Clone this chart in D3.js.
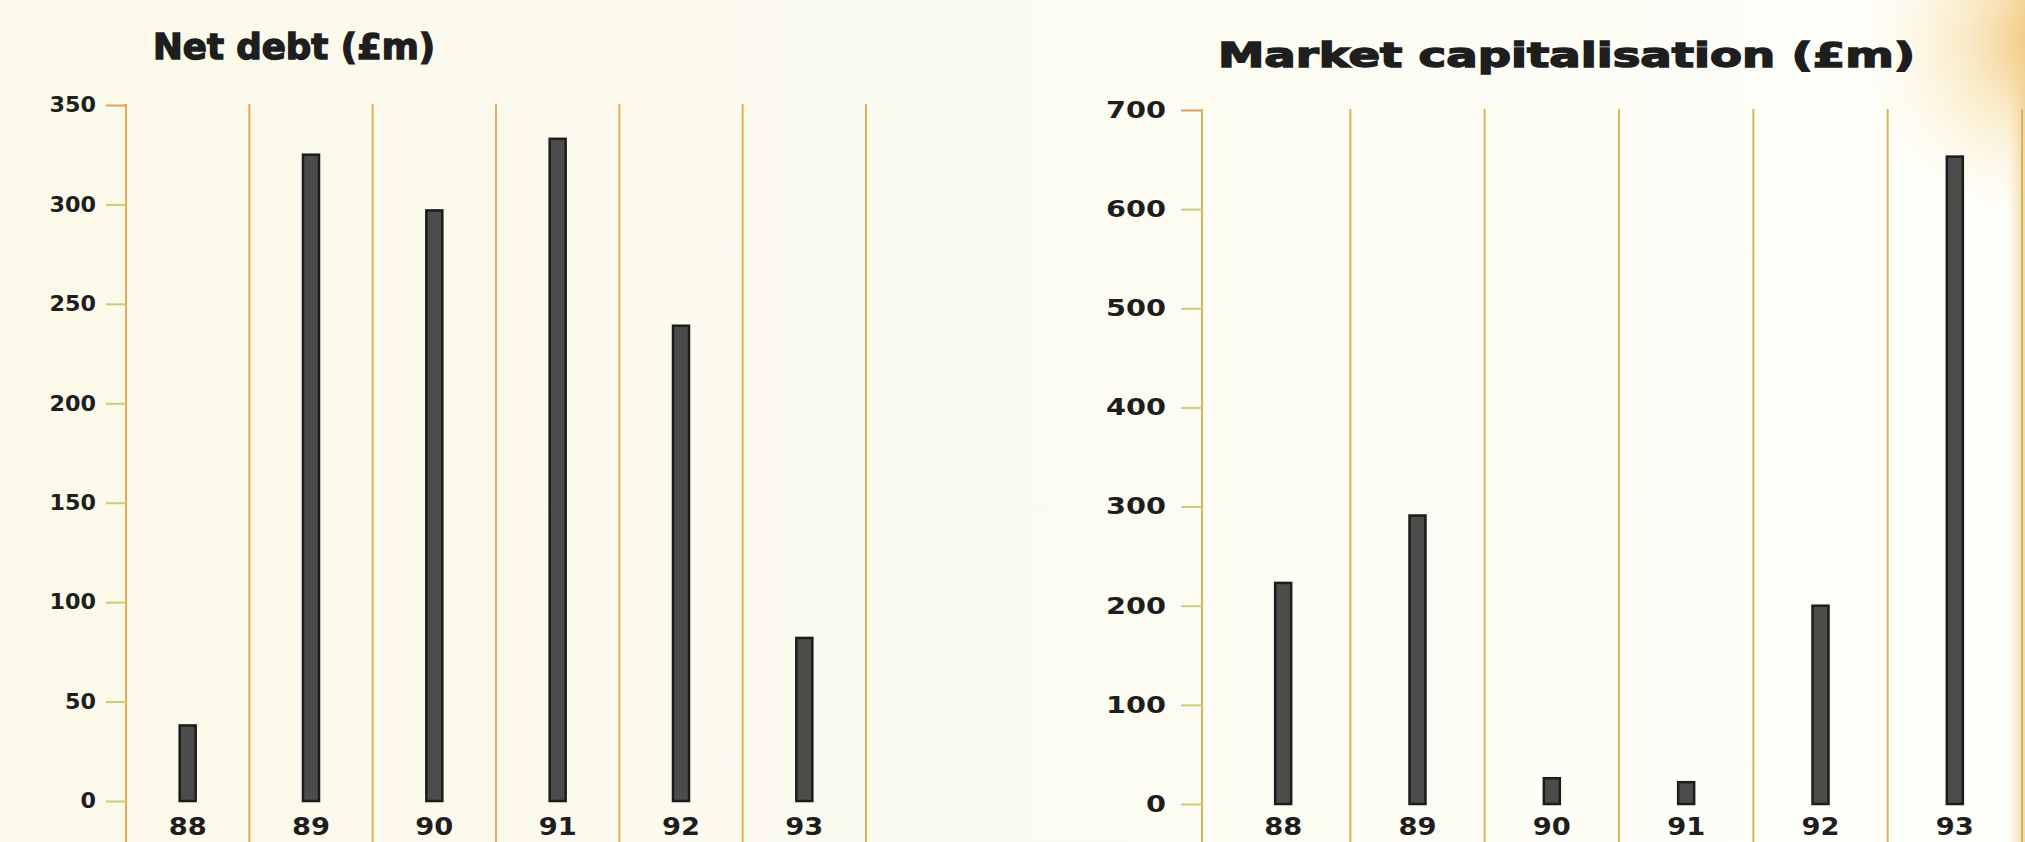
<!DOCTYPE html>
<html>
<head>
<meta charset="utf-8">
<script src="https://cdn.jsdelivr.net/npm/d3@7"></script>
<style>
  html, body { margin: 0; padding: 0; background: #fbfaed; }
  svg { display: block; }
  text { font-family: "DejaVu Sans", sans-serif; font-weight: bold; fill: #1e1e1e; }
</style>
</head>
<body>
<svg id="chart"></svg>
<script>
const width = 2025;
const height = 842;

// data
const years = ["88", "89", "90", "91", "92", "93"];
const netDebt = [38, 325, 297, 333, 239, 82];
const marketCap = [223, 291, 26, 22, 200, 653];
const debtTicks = [0, 50, 100, 150, 200, 250, 300, 350];
const capTicks = [0, 100, 200, 300, 400, 500, 600, 700];

const svg = d3.select("#chart").attr("width", width).attr("height", height);
const defs = svg.append("defs");

// scanned paper look: cream on the left, whiter on the right, orange edge top right
const paper = defs.append("linearGradient").attr("id", "paper");
paper.append("stop").attr("offset", "0").attr("stop-color", "#fbf9e9");
paper.append("stop").attr("offset", "0.5").attr("stop-color", "#fcfbf0");
paper.append("stop").attr("offset", "1").attr("stop-color", "#fefefa");
const edge = defs.append("radialGradient").attr("id", "edge")
    .attr("gradientUnits", "userSpaceOnUse")
    .attr("cx", 2045).attr("cy", 40).attr("r", 190);
edge.append("stop").attr("offset", "0").attr("stop-color", "#f0b862").attr("stop-opacity", 0.9);
edge.append("stop").attr("offset", "0.45").attr("stop-color", "#f6d894").attr("stop-opacity", 0.45);
edge.append("stop").attr("offset", "1").attr("stop-color", "#fff6d8").attr("stop-opacity", 0);
const strip = defs.append("linearGradient").attr("id", "strip");
strip.append("stop").attr("offset", "0").attr("stop-color", "#f3d8a0").attr("stop-opacity", 0);
strip.append("stop").attr("offset", "1").attr("stop-color", "#f0cf90").attr("stop-opacity", 0.8);

svg.append("rect").attr("width", width).attr("height", height).attr("fill", "url(#paper)");
svg.append("rect").attr("width", width).attr("height", height).attr("fill", "url(#edge)");
svg.append("rect").attr("x", 2008).attr("width", 17).attr("height", height).attr("fill", "url(#strip)");

const panels = [
    {
        title: "Net debt (£m)", values: netDebt, ticks: debtTicks,
        axisX: 126, left: 126, right: 866, top: 105, base: 801,
        titleX: 153, titleY: 59, titleW: 282, titleSize: 36,
        tickSize: 21, tickCharW: 15.5, tickLen: 20, tickPad: 10,
        labelY: 818, grid: "#e2ac5c"
    },
    {
        title: "Market capitalisation (£m)", values: marketCap, ticks: capTicks,
        axisX: 1202, left: 1216, right: 2022, top: 110, base: 804,
        titleX: 1218, titleY: 67, titleW: 697, titleSize: 34,
        tickSize: 23, tickCharW: 20, tickLen: 21, tickPad: 15,
        labelY: 818, grid: "#d9b55a"
    }
];

panels.forEach(drawPanel);

function stretch(sel, charW) {
    sel.attr("textLength", function () { return this.textContent.length * charW; })
        .attr("lengthAdjust", "spacingAndGlyphs");
}

function drawPanel(p) {
    const g = svg.append("g");
    const max = d3.max(p.ticks);

    const x = d3.scaleBand().domain(years).range([p.left, p.right]).padding(0);
    const y = d3.scaleLinear().domain([0, max]).range([p.base, p.top]);

    // vertical rules between the years, plus the value axis line
    const edges = years.slice(1).map(d => x(d)).concat([p.right, p.axisX]);
    g.selectAll(".rule")
        .data(edges)
        .enter()
        .append("line")
        .attr("class", "rule")
        .attr("x1", d => d).attr("x2", d => d)
        .attr("y1", p.top - 1).attr("y2", height)
        .style("stroke", p.grid)
        .style("stroke-width", 2);

    // value axis
    const yAxis = g.append("g")
        .attr("transform", `translate(${p.axisX},0)`)
        .call(d3.axisLeft(y).tickValues(p.ticks).tickSize(p.tickLen).tickPadding(p.tickPad).tickSizeOuter(0));
    yAxis.select(".domain").remove();
    yAxis.selectAll(".tick line")
        .style("stroke", (d) => d === max ? "#e0a060" : "#c9cf78")
        .style("stroke-width", 2);
    yAxis.selectAll(".tick text")
        .style("font-size", p.tickSize + "px")
        .style("font-family", "'DejaVu Sans', sans-serif")
        .style("font-weight", "bold")
        .style("fill", "#1e1e1e")
        .call(stretch, p.tickCharW);

    // bars
    const barW = 16;
    g.selectAll(".bar")
        .data(p.values)
        .enter()
        .append("rect")
        .attr("class", "bar")
        .attr("x", (d, i) => x(years[i]) + x.bandwidth() / 2 - barW / 2)
        .attr("y", d => y(d))
        .attr("width", barW)
        .attr("height", d => y(0) - y(d))
        .style("fill", "#4c4c4a")
        .style("stroke", "#1c1c1c")
        .style("stroke-width", 2.5);

    // year labels
    const xAxis = g.append("g")
        .attr("transform", `translate(0,${p.labelY})`)
        .call(d3.axisBottom(x).tickSize(0).tickPadding(0));
    xAxis.select(".domain").remove();
    xAxis.selectAll(".tick text")
        .style("font-size", "24px")
        .style("font-family", "'DejaVu Sans', sans-serif")
        .style("font-weight", "bold")
        .style("fill", "#1e1e1e")
        .call(stretch, 19);

    // title
    g.append("text")
        .attr("x", p.titleX)
        .attr("y", p.titleY)
        .style("font-size", p.titleSize + "px")
        .style("stroke", "#1e1e1e")
        .style("stroke-width", 1.5)
        .attr("textLength", p.titleW)
        .attr("lengthAdjust", "spacingAndGlyphs")
        .text(p.title);
}
</script>
</body>
</html>
